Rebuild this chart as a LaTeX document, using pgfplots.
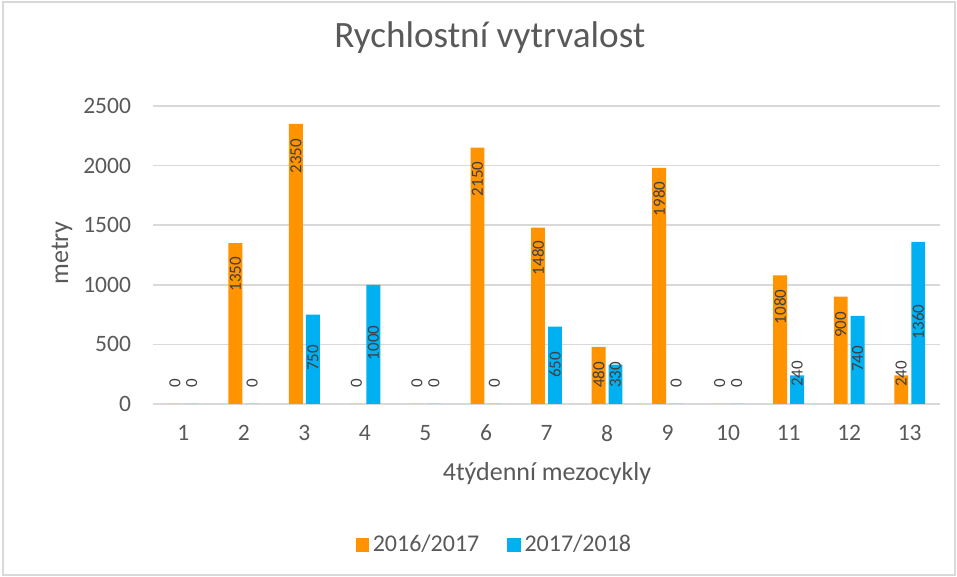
\documentclass[border=0pt]{standalone}
\usepackage{fontspec}
\setmainfont{Carlito}
\usepackage{pgfplots}
\usepackage{pgfplotstable}
\pgfplotsset{compat=1.18}

\definecolor{orng}{HTML}{FF9300}
\definecolor{blu}{HTML}{00B0F0}
\definecolor{txt}{HTML}{595959}
\definecolor{lbl}{HTML}{404040}
\definecolor{grd}{HTML}{D9D9D9}

% x, value, label position (value units)
\pgfplotstableread{
x  o    ol    b    bl
1  0    176   0    176
2  1350 1090  0    176
3  2350 2080  750  386
4  0    176   1000 512
5  0    176   0    176
6  2150 1888  0    176
7  1480 1225  650  327
8  480  243   330  243
9  1980 1720  0    176
10 0    176   0    176
11 1080 814   240  252
12 900  663   740  377
13 240  252   1360 688
}\data

\pgfplotsset{
  sqlegend/.style={legend image code/.code={\fill[##1] (0pt,-3.3pt) rectangle (6.6pt,3.3pt);}},
  barlabels/.style={draw=none, fill=none, forget plot,
    point meta=explicit symbolic, nodes near coords, nodes near coords align=center,
    every node near coord/.append style={rotate=90, lbl, inner sep=0pt, font=\fontsize{8.5}{10}\selectfont}},
}

\begin{document}
\begin{tikzpicture}
\useasboundingbox (0,0) rectangle (478.5pt,288.5pt);
\draw[grd, line width=0.6pt] (1.5pt,1pt) rectangle (477.5pt,287.5pt);
\begin{axis}[
  at={(76.5pt,86.5pt)}, anchor=south west,
  scale only axis, width=393.5pt, height=149pt,
  xmin=0.5, xmax=13.5, ymin=0, ymax=2500,
  enlargelimits=false,
  xtick={1,...,13}, ytick={0,500,...,2500},
  axis line style={draw=none},
  major tick length=0pt,
  ymajorgrids, major grid style={grd, line width=0.75pt},
  font=\fontsize{11.75}{14}\selectfont,
  tick label style={txt},
  /pgf/number format/assume math mode=true,
  /pgf/number format/1000 sep={},
  xticklabel style={anchor=north, yshift=-7pt},
  yticklabel style={anchor=east, xshift=-7.5pt},
  title={Rychlostní vytrvalost},
  title style={at={(0.428,1.188)}, anchor=center, txt, font=\fontsize{18.6}{22}\selectfont},
  xlabel={4týdenní mezocykly},
  xlabel style={at={(0.5006,-0.235)}, anchor=center, txt, font=\fontsize{13}{15}\selectfont},
  ylabel={metry},
  ylabel style={at={(-0.1156,0.507)}, anchor=center, rotate=0, txt, font=\fontsize{13}{15}\selectfont},
  legend columns=2,
  legend style={at={(0.435,-0.473)}, anchor=center, draw=none, fill=none,
    font=\fontsize{12}{14}\selectfont, text=txt,
    /tikz/every even column/.style={column sep=12pt}},
  ybar, bar width=0.23,
]
\addplot[fill=orng, draw=none, bar shift=-0.14, sqlegend] table[x=x, y=o] {\data};
\addlegendentry{2016/2017}
\addplot[fill=blu, draw=none, bar shift=0.14, sqlegend] table[x=x, y=b] {\data};
\addlegendentry{2017/2018}
% data labels
\addplot[barlabels, bar shift=-0.14] table[x=x, y=ol, meta=o] {\data};
\addplot[barlabels, bar shift=0.14] table[x=x, y=bl, meta=b] {\data};
\end{axis}
\end{tikzpicture}
\end{document}
